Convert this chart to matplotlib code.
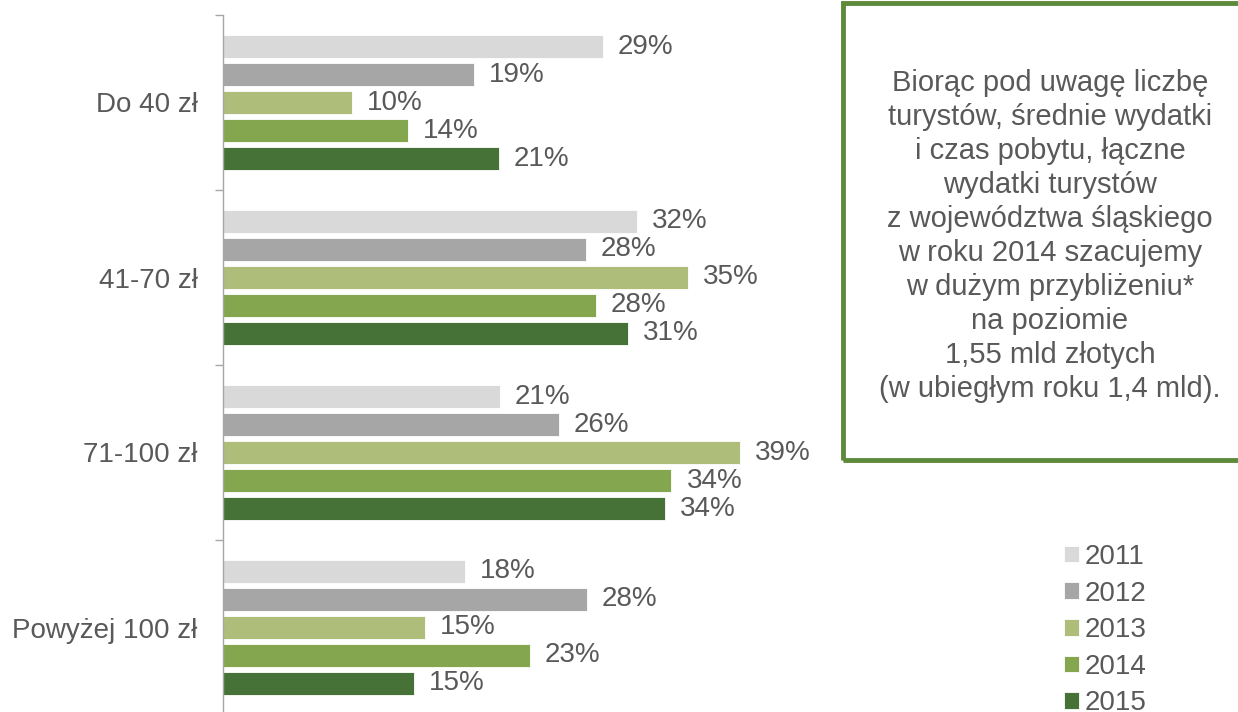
import numpy as np
import matplotlib.pyplot as plt
from matplotlib.patches import Rectangle

plt.rcParams['font.family'] = ['Liberation Sans', 'DejaVu Sans']

# Data (bar lengths estimated, labels as printed)
categories = ['Do 40 zł', '41-70 zł', '71-100 zł', 'Powyżej 100 zł']
years = ['2011', '2012', '2013', '2014', '2015']
values = {
    '2011': [28.96, 31.55, 21.1, 18.45],
    '2012': [19.13, 27.67, 25.6, 27.74],
    '2013': [9.83, 35.44, 39.4, 15.4],
    '2014': [14.1, 28.43, 34.2, 23.4],
    '2015': [21.04, 30.87, 33.7, 14.6],
}
labels = {
    '2011': [29, 32, 21, 18],
    '2012': [19, 28, 26, 28],
    '2013': [10, 35, 39, 15],
    '2014': [14, 28, 34, 23],
    '2015': [21, 31, 34, 15],
}
colors = ['#d9d9d9', '#a6a6a6', '#afbd7a', '#84a64e', '#467237']
note = ("Biorąc pod uwagę liczbę\nturystów, średnie wydatki\ni czas pobytu, łączne\n"
        "wydatki turystów\nz województwa śląskiego\nw roku 2014 szacujemy\n"
        "w dużym przybliżeniu*\nna poziomie\n1,55 mld złotych\n(w ubiegłym roku 1,4 mld).")

text_color = '#595959'

fig = plt.figure(figsize=(12.38, 7.12), dpi=100)
ax = fig.add_axes([222.7 / 1238, -3 / 712, 616.6 / 1238, 700 / 712])

y = np.arange(len(categories))
slot = 0.16
bar_h = 0.131
for i, yr in enumerate(years):
    pos = y - 0.4 + slot * (i + 0.5)
    bars = ax.barh(pos, values[yr], height=bar_h, color=colors[i],
                   edgecolor='white', linewidth=0.6, label=yr)
    for b, lab in zip(bars, labels[yr]):
        ax.text(b.get_width() + 1.15, b.get_y() + b.get_height() / 2, f'{lab}%',
                va='center', ha='left', fontsize=20, color=text_color)

ax.set_xlim(0, 47)
ax.set_ylim(3.5, -0.5)
ax.set_yticks(y)
ax.set_yticklabels(categories, fontsize=20, color=text_color)
ax.set_yticks(np.arange(-0.5, 4.0, 1.0), minor=True)
ax.tick_params(axis='y', which='major', length=0, pad=18)
ax.tick_params(axis='y', which='minor', length=6, color='#a6a6a6', width=1)
ax.set_xticks([])
for s in ['top', 'right', 'bottom']:
    ax.spines[s].set_visible(False)
ax.spines['left'].set_color('#a6a6a6')
ax.spines['left'].set_linewidth(1)

# Text box on the right
box = Rectangle((843 / 1238, 1 - 460 / 712), 420 / 1238, 457 / 712,
                transform=fig.transFigure, fill=False, edgecolor='#5e8a3b',
                linewidth=3.5, clip_on=False)
fig.patches.append(box)
fig.text(1050 / 1238, 1 - 236 / 712, note, ha='center', va='center',
         fontsize=21, color=text_color, linespacing=1.27)

handles, leg_labels = ax.get_legend_handles_labels()
fig.legend(handles, leg_labels, loc='upper left', bbox_to_anchor=(1064 / 1238, 1 - 544 / 712),
           frameon=False, fontsize=20, handlelength=0.54, handleheight=0.54,
           handletextpad=0.22, labelspacing=0.38, borderpad=0, borderaxespad=0,
           labelcolor=text_color)

fig.savefig('out.png', dpi=100)
